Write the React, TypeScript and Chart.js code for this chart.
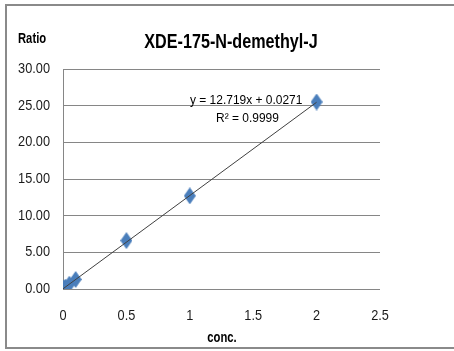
import React, { useEffect, useRef } from "react";
import { Chart, registerables } from "chart.js";

Chart.register(...registerables);

const conc = [0, 0.01, 0.02, 0.05, 0.1, 0.5, 1, 2];
const ratio = [0.02, 0.13, 0.27, 0.66, 1.3, 6.6, 12.7, 25.5];
const trendX = [0, 2];
const slope = 12.719;
const intercept = 0.0271;
const yTicks = [0, 5, 10, 15, 20, 25, 30];
const xTicks = [0, 0.5, 1, 1.5, 2, 2.5];
const titleText = "XDE-175-N-demethyl-J";
const yTitle = "Ratio";
const xTitle = "conc.";
const eqText = "y = 12.719x + 0.0271";
const r2Text = "R\u00B2 = 0.9999";

const FONT = "'Liberation Sans', Arial, sans-serif";

function makeDiamond(): HTMLCanvasElement {
  const w = 12;
  const h = 17;
  const cv = document.createElement("canvas");
  cv.width = w;
  cv.height = h;
  const c = cv.getContext("2d")!;
  c.fillStyle = "#4A7EBB";
  c.beginPath();
  c.moveTo(w / 2, 0);
  c.lineTo(w, h / 2);
  c.lineTo(w / 2, h);
  c.lineTo(0, h / 2);
  c.closePath();
  c.fill();
  return cv;
}

function squeezeText(c: CanvasRenderingContext2D, t: string, x: number, y: number, sx: number, align: CanvasTextAlign) {
  c.save();
  c.translate(x, y);
  c.scale(sx, 1);
  c.textAlign = align;
  c.fillText(t, 0, 0);
  c.restore();
}

export default function App() {
  const ref = useRef<HTMLCanvasElement | null>(null);
  useEffect(() => {
    if (!ref.current) return;
    const decor = {
      id: "decor",
      afterDraw(chart: any) {
        const c = chart.ctx;
        const xs = chart.scales.x;
        const ys = chart.scales.y;
        c.save();
        c.strokeStyle = "#8a8a8a";
        c.lineWidth = 2;
        c.beginPath();
        c.moveTo(454, 5);
        c.lineTo(6, 5);
        c.lineTo(6, 348);
        c.lineTo(454, 348);
        c.stroke();
        c.fillStyle = "#000";
        c.textBaseline = "middle";
        c.font = `bold 21px ${FONT}`;
        squeezeText(c, titleText, 231, 42, 0.77, "center");
        c.font = `bold 15px ${FONT}`;
        squeezeText(c, yTitle, 18, 39, 0.75, "left");
        squeezeText(c, xTitle, 222, 338, 0.75, "center");
        c.font = `15px ${FONT}`;
        c.fillStyle = "#1a1a1a";
        for (const v of yTicks) {
          squeezeText(c, v.toFixed(2), 50, ys.getPixelForValue(v), 0.85, "right");
        }
        for (const v of xTicks) {
          squeezeText(c, String(v), xs.getPixelForValue(v), 316, 0.85, "center");
        }
        c.fillStyle = "#000";
        c.font = `13px ${FONT}`;
        squeezeText(c, eqText, 190, 100, 0.92, "left");
        squeezeText(c, r2Text, 216, 118, 0.92, "left");
        c.restore();
      },
    };
    const chart = new Chart(ref.current, {
      type: "scatter",
      data: {
        datasets: [
          {
            type: "line",
            data: trendX.map((x) => ({ x, y: slope * x + intercept })),
            borderColor: "#404040",
            borderWidth: 1,
            pointRadius: 0,
            fill: false,
          } as any,
          {
            data: conc.map((x, i) => ({ x, y: ratio[i] })),
            pointStyle: makeDiamond(),
            pointRadius: 6,
            backgroundColor: "#4A7EBB",
            borderColor: "#4A7EBB",
          },
        ],
      },
      plugins: [decor],
      options: {
        animation: false,
        responsive: false,
        layout: { padding: { top: 69, right: 74, left: 0, bottom: 0 } },
        plugins: { legend: { display: false }, tooltip: { enabled: false } },
        scales: {
          x: {
            type: "linear",
            min: 0,
            max: 2.5,
            afterFit: (s: any) => { s.height = 62; },
            afterBuildTicks: (s: any) => { s.ticks = xTicks.map((v) => ({ value: v })); },
            ticks: { display: false },
            grid: { display: false, drawTicks: false },
            border: { display: false },
          },
          y: {
            min: 0,
            max: 30,
            afterFit: (s: any) => { s.width = 63; },
            afterBuildTicks: (s: any) => { s.ticks = yTicks.map((v) => ({ value: v })); },
            ticks: { display: false },
            grid: { color: "#868686", drawTicks: false, lineWidth: 1 },
            border: { display: true, color: "#868686" },
          },
        },
      },
    } as any);
    return () => chart.destroy();
  }, []);
  return (
    <div style={{ position: "fixed", left: 0, top: 0, width: 454, height: 351, background: "#fff" }}>
      <canvas ref={ref} width={454} height={351} />
    </div>
  );
}
